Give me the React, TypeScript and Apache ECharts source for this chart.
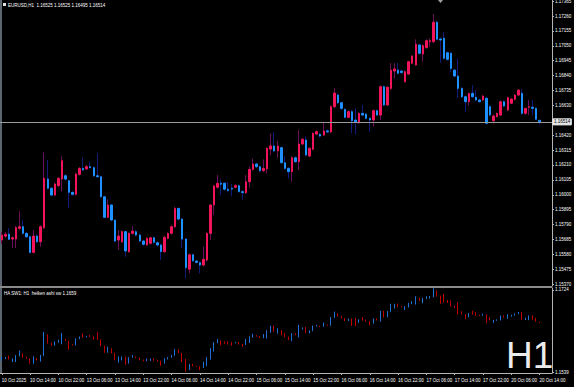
import React, { useEffect, useRef } from "react";
import * as echarts from "echarts";

// Trading days shown (hourly bars): [day, first hour, last hour]
const tradingDays: [string, number, number][] = [
  ["10 Oct", 6, 23],
  ["13 Oct", 0, 23],
  ["14 Oct", 0, 23],
  ["15 Oct", 0, 23],
  ["16 Oct", 0, 23],
  ["17 Oct", 0, 23],
  ["20 Oct", 0, 14],
];

const xTickLabels = [
  "10 Oct 2025", "10 Oct 14:00", "10 Oct 22:00", "13 Oct 06:00", "13 Oct 14:00",
  "13 Oct 22:00", "14 Oct 06:00", "14 Oct 14:00", "14 Oct 22:00", "15 Oct 06:00",
  "15 Oct 14:00", "15 Oct 22:00", "16 Oct 06:00", "16 Oct 14:00", "16 Oct 22:00",
  "17 Oct 06:00", "17 Oct 14:00", "17 Oct 22:00", "20 Oct 06:00", "20 Oct 14:00",
];

const priceTicks = [
  1.17365, 1.1726, 1.17155, 1.1705, 1.16945, 1.1684, 1.16735, 1.1663, 1.1642,
  1.16315, 1.1621, 1.16105, 1.16, 1.15895, 1.1579, 1.15685, 1.1558, 1.15475, 1.1537,
];

const indicatorTicks = [1.1724, 1.1539];

const openP = [
  1.15681, 1.15709, 1.15723, 1.15688, 1.15688, 1.15763, 1.15775, 1.15728, 1.15704, 1.15594,
  1.15709, 1.15669, 1.15768, 1.16111, 1.16046, 1.15998, 1.16064, 1.16111, 1.16134, 1.16099,
  1.16017, 1.16003, 1.16144, 1.16186, 1.16182, 1.16198, 1.16191, 1.16134, 1.16127, 1.15986,
  1.15841, 1.15928, 1.15822, 1.15681, 1.15669, 1.1574, 1.15599, 1.15728, 1.1574, 1.15716,
  1.15674, 1.15646, 1.15658, 1.15697, 1.15662, 1.15646, 1.15599, 1.15693, 1.15728, 1.15775,
  1.15904, 1.15829, 1.15688, 1.15476, 1.15577, 1.15533, 1.15521, 1.15505, 1.1554, 1.15728,
  1.15928, 1.16053, 1.16081, 1.16081, 1.16039, 1.16046, 1.16053, 1.16064, 1.16022, 1.16015,
  1.16092, 1.16179, 1.16217, 1.16198, 1.1617, 1.16182, 1.16322, 1.16344, 1.16309, 1.16332,
  1.16226, 1.16186, 1.16163, 1.16261, 1.16233, 1.16358, 1.16386, 1.16273, 1.16321, 1.16428,
  1.16426, 1.16421, 1.1645, 1.16443, 1.16621, 1.16703, 1.16649, 1.16602, 1.16546, 1.16586,
  1.16527, 1.16508, 1.16574, 1.16569, 1.16539, 1.16527, 1.16593, 1.16562, 1.16762, 1.16633,
  1.1675, 1.16872, 1.16879, 1.16872, 1.16797, 1.16851, 1.16927, 1.16915, 1.17056, 1.16992,
  1.17037, 1.17079, 1.17079, 1.17216, 1.17098, 1.17103, 1.17001, 1.16997, 1.16879, 1.16837,
  1.1675, 1.16691, 1.16656, 1.16715, 1.16687, 1.16668, 1.16668, 1.1668, 1.16621, 1.16522,
  1.1655, 1.16562, 1.16656, 1.16597, 1.16645, 1.16673, 1.16703, 1.16715, 1.16574, 1.16617,
  1.16617, 1.16609, 1.16525,
];

const closeP = [
  1.15716, 1.15721, 1.15686, 1.15697, 1.15768, 1.15775, 1.15728, 1.15704, 1.15594, 1.15709,
  1.15669, 1.15775, 1.16116, 1.16046, 1.15998, 1.16076, 1.16116, 1.1624, 1.16111, 1.16017,
  1.16003, 1.16146, 1.16186, 1.16175, 1.16198, 1.16191, 1.16134, 1.16127, 1.15986, 1.15841,
  1.15928, 1.15822, 1.15674, 1.15709, 1.1574, 1.15604, 1.15728, 1.15744, 1.15716, 1.15674,
  1.15651, 1.15693, 1.15697, 1.15665, 1.15646, 1.15599, 1.157, 1.15728, 1.15775, 1.15904,
  1.15829, 1.15688, 1.15486, 1.15577, 1.15535, 1.15524, 1.15505, 1.15545, 1.15728, 1.15928,
  1.16062, 1.16081, 1.16074, 1.16039, 1.1603, 1.1604, 1.16064, 1.16022, 1.16015, 1.16092,
  1.16179, 1.16217, 1.16198, 1.1617, 1.16186, 1.16328, 1.16344, 1.16309, 1.16344, 1.16226,
  1.16186, 1.16163, 1.16261, 1.16233, 1.16358, 1.16391, 1.1628, 1.16328, 1.16433, 1.16445,
  1.16414, 1.1645, 1.16443, 1.16621, 1.16717, 1.16649, 1.16609, 1.16546, 1.16586, 1.16522,
  1.16515, 1.16574, 1.16562, 1.16539, 1.16527, 1.16593, 1.16562, 1.16762, 1.16633, 1.16758,
  1.16879, 1.16887, 1.16856, 1.16862, 1.16868, 1.16938, 1.16978, 1.17061, 1.16997, 1.17051,
  1.17086, 1.17086, 1.17216, 1.17096, 1.17091, 1.16962, 1.16955, 1.16891, 1.16837, 1.1675,
  1.16691, 1.16656, 1.16715, 1.16691, 1.16668, 1.16656, 1.16696, 1.16504, 1.16562, 1.16555,
  1.16574, 1.16656, 1.16626, 1.16684, 1.16675, 1.16703, 1.16738, 1.16574, 1.16609, 1.16621,
  1.16609, 1.16532, 1.16514,
];

const highP = [
  1.15737, 1.15737, 1.15766, 1.15705, 1.1578, 1.15885, 1.15822, 1.1574, 1.1571, 1.15752,
  1.1572, 1.15785, 1.16299, 1.16245, 1.16055, 1.16085, 1.16125, 1.16273, 1.16145, 1.16105,
  1.16025, 1.16155, 1.16195, 1.16264, 1.1621, 1.16233, 1.162, 1.16292, 1.16135, 1.1599,
  1.15968, 1.15935, 1.1583, 1.15752, 1.1575, 1.15745, 1.15735, 1.1578, 1.1575, 1.15725,
  1.1568, 1.157, 1.15705, 1.15705, 1.1567, 1.15655, 1.1571, 1.15735, 1.15785, 1.15915,
  1.1591, 1.15835, 1.15695, 1.15585, 1.15585, 1.1554, 1.1553, 1.15634, 1.15735, 1.15935,
  1.1607, 1.1614, 1.1611, 1.1609, 1.1609, 1.16075, 1.16075, 1.1607, 1.1603, 1.1614,
  1.162, 1.16255, 1.16225, 1.16205, 1.1625, 1.16335, 1.16433, 1.1644, 1.1638, 1.1634,
  1.16275, 1.16195, 1.1627, 1.1627, 1.16456, 1.164, 1.1641, 1.16335, 1.1644, 1.16455,
  1.16435, 1.16508, 1.1646, 1.1663, 1.16753, 1.16715, 1.16655, 1.1661, 1.16595, 1.16595,
  1.1661, 1.1658, 1.16633, 1.16575, 1.16545, 1.166, 1.166, 1.1677, 1.1677, 1.16765,
  1.16929, 1.16929, 1.16929, 1.1688, 1.16875, 1.16945, 1.16985, 1.17096, 1.17065, 1.1706,
  1.17095, 1.17103, 1.17274, 1.17225, 1.1711, 1.17147, 1.1701, 1.17005, 1.16885, 1.1696,
  1.1676, 1.167, 1.1672, 1.16773, 1.16738, 1.16675, 1.16705, 1.1669, 1.1663, 1.16565,
  1.1658, 1.16665, 1.16665, 1.16692, 1.1668, 1.1671, 1.16745, 1.16745, 1.16615, 1.16668,
  1.16668, 1.16615, 1.16525,
];

const lowP = [
  1.15653, 1.15695, 1.15681, 1.15625, 1.15625, 1.15752, 1.1572, 1.15695, 1.15587, 1.15587,
  1.1566, 1.15634, 1.1576, 1.1604, 1.1599, 1.1599, 1.16055, 1.16022, 1.161, 1.15905,
  1.15995, 1.15995, 1.16135, 1.1617, 1.16175, 1.16185, 1.16125, 1.1612, 1.1598, 1.15835,
  1.15835, 1.15815, 1.15665, 1.15611, 1.1566, 1.15563, 1.1559, 1.1572, 1.1571, 1.15665,
  1.1564, 1.1564, 1.1565, 1.15655, 1.15635, 1.1554, 1.1559, 1.15685, 1.1572, 1.15765,
  1.1582, 1.15623, 1.15411, 1.15446, 1.15525, 1.15515, 1.15446, 1.15495, 1.1553, 1.15681,
  1.15858, 1.16045, 1.16, 1.1603, 1.1602, 1.1599, 1.16045, 1.16015, 1.15965, 1.16005,
  1.1605, 1.1617, 1.1619, 1.1616, 1.1616, 1.1615, 1.1628, 1.163, 1.1626, 1.1622,
  1.1618, 1.16115, 1.16092, 1.16225, 1.16174, 1.1635, 1.16275, 1.16265, 1.16315, 1.1642,
  1.16405, 1.16415, 1.16435, 1.16435, 1.1661, 1.1664, 1.166, 1.1654, 1.1654, 1.16435,
  1.16426, 1.165, 1.16555, 1.1653, 1.16445, 1.1648, 1.16555, 1.16527, 1.16625, 1.16625,
  1.1674, 1.1682, 1.1685, 1.1685, 1.1679, 1.16845, 1.1692, 1.1691, 1.1699, 1.16938,
  1.1703, 1.17044, 1.1707, 1.1709, 1.16929, 1.16955, 1.16945, 1.16866, 1.1683, 1.1668,
  1.16685, 1.16583, 1.16628, 1.16685, 1.16656, 1.1665, 1.1666, 1.16495, 1.16555, 1.16501,
  1.16545, 1.16555, 1.1662, 1.1659, 1.1664, 1.16665, 1.16695, 1.16565, 1.16565, 1.16562,
  1.16562, 1.16525, 1.16495,
];

const FONT = "Liberation Sans";

function buildCategories(): string[] {
  const cats: string[] = [];
  tradingDays.forEach(([d, h0, h1]) => {
    for (let h = h0; h <= h1; h++) cats.push(`${d} ${String(h).padStart(2, "0")}:00`);
  });
  // empty slots for the chart shift on the right
  cats.push(" ", "  ", "   ");
  return cats;
}

export default function App() {
  const ref = useRef<HTMLDivElement>(null);

  useEffect(() => {
    document.body.style.margin = "0";
    document.body.style.background = "#000";
    const chart = echarts.init(ref.current as HTMLDivElement, null, { renderer: "svg" });
    const cats = buildCategories();
    const n = openP.length;
    const wickData = openP.map((o, i) => [o, closeP[i], lowP[i], highP[i]]);
    const bodyData = openP.map((o, i) => [
      o,
      closeP[i],
      Math.min(o, closeP[i]),
      Math.max(o, closeP[i]),
    ]);
    const lastClose = closeP[n - 1];
    const tickShown = (idx: number) => idx % 8 === 0 && idx < n;

    const option: any = {
      animation: false,
      backgroundColor: "#000000",
      textStyle: { fontFamily: FONT },
      grid: [
        { left: 0, right: 22, top: 0, height: 286, containLabel: false, outerBoundsMode: "none" },
        { left: 0, right: 22, top: 288, height: 85, containLabel: false, outerBoundsMode: "none" },
      ],
      xAxis: [
        {
          type: "category",
          gridIndex: 0,
          data: cats,
          boundaryGap: true,
          axisLine: { show: false },
          axisTick: { show: false },
          axisLabel: { show: false },
          splitLine: { show: false },
        },
        {
          type: "category",
          gridIndex: 1,
          data: cats,
          boundaryGap: true,
          axisLine: { show: true, lineStyle: { color: "#b4b4b4", width: 1 } },
          axisTick: {
            show: true,
            alignWithLabel: true,
            interval: (idx: number) => tickShown(idx),
            length: 2,
            lineStyle: { color: "#b4b4b4" },
          },
          axisLabel: {
            show: true,
            interval: (idx: number) => tickShown(idx),
            formatter: (_v: string, idx: number) => xTickLabels[idx / 8] ?? "",
            align: "left",
            color: "#ffffff",
            fontSize: 4.5,
            fontFamily: FONT,
            margin: 5,
          },
          splitLine: { show: false },
        },
      ],
      yAxis: [
        {
          type: "value",
          gridIndex: 0,
          position: "right",
          min: 1.15357,
          max: 1.17373,
          axisLine: { show: true, lineStyle: { color: "#b4b4b4", width: 1 } },
          axisTick: {
            show: true,
            length: 2,
            customValues: priceTicks,
            lineStyle: { color: "#b4b4b4" },
          },
          axisLabel: {
            show: true,
            customValues: priceTicks,
            formatter: (v: number) => v.toFixed(5),
            color: "#ffffff",
            fontSize: 4.5,
            fontFamily: FONT,
            margin: 3,
          },
          splitLine: { show: false },
        },
        {
          type: "value",
          gridIndex: 1,
          position: "right",
          min: 1.1538,
          max: 1.1728,
          axisLine: { show: true, lineStyle: { color: "#b4b4b4", width: 1 } },
          axisTick: {
            show: true,
            length: 2,
            customValues: indicatorTicks,
            lineStyle: { color: "#b4b4b4" },
          },
          axisLabel: {
            show: true,
            customValues: indicatorTicks,
            formatter: (v: number) => v.toFixed(4),
            color: "#ffffff",
            fontSize: 4.5,
            fontFamily: FONT,
            margin: 3,
          },
          splitLine: { show: false },
        },
      ],
      series: [
        {
          name: "wicks",
          type: "candlestick",
          xAxisIndex: 0,
          yAxisIndex: 0,
          data: wickData,
          barWidth: 1,
          silent: true,
          itemStyle: {
            color: "#6a0f58",
            color0: "#101c7c",
            borderColor: "#6a0f58",
            borderColor0: "#101c7c",
            borderColorDoji: "#6a0f58",
            borderWidth: 1,
          },
        },
        {
          name: "EURUSD,H1",
          type: "candlestick",
          xAxisIndex: 0,
          yAxisIndex: 0,
          data: bodyData,
          barWidth: 2,
          silent: true,
          itemStyle: {
            color: "#f2145a",
            color0: "#1e90ff",
            borderColor: "#f2145a",
            borderColor0: "#1e90ff",
            borderColorDoji: "#1e90ff",
            borderWidth: 1,
          },
          markLine: {
            silent: true,
            precision: 5,
            symbol: ["none", "none"],
            data: [{ yAxis: lastClose }],
            lineStyle: { color: "#9a9a9a", width: 1, type: "solid" },
            label: {
              show: true,
              position: "end",
              distance: 1,
              formatter: () => lastClose.toFixed(5),
              color: "#000000",
              backgroundColor: "#e6e6e6",
              borderColor: "#ffffff",
              borderWidth: 0.5,
              padding: [1, 1, 0, 1],
              fontSize: 4.5,
              fontFamily: FONT,
            },
          },
        },
        {
          name: "HA SW1",
          type: "candlestick",
          xAxisIndex: 1,
          yAxisIndex: 1,
          data: wickData,
          barWidth: 1,
          silent: true,
          itemStyle: {
            color: "#1f6fd4",
            color0: "#c00000",
            borderColor: "#1f6fd4",
            borderColor0: "#c00000",
            borderColorDoji: "#c00000",
            borderWidth: 1,
          },
        },
      ],
      graphic: [
        { type: "rect", left: 0, top: 0, shape: { width: 2, height: 373 }, style: { fill: "#5b6670" }, silent: true },
        { type: "rect", left: 0, top: 286, shape: { width: 552, height: 2 }, style: { fill: "#8a8a8a" }, silent: true },
        { type: "rect", left: 3, top: 3, shape: { width: 3, height: 3 }, style: { fill: "#e0e0e0" }, silent: true },
        {
          type: "polygon",
          shape: { points: [[438, 0], [443, 0], [440.5, 3]] },
          style: { fill: "#a0a0a0" },
          silent: true,
        },
        {
          type: "text",
          left: 8,
          top: 2.5,
          style: {
            text: "EURUSD,H1  1.16525 1.16525 1.16495 1.16514",
            fill: "#ffffff",
            fontSize: 4.5,
            fontFamily: FONT,
          },
          silent: true,
        },
        {
          type: "text",
          left: 4,
          top: 290.5,
          style: {
            text: "HA SW1: H1  heiken ashi sw 1.1659",
            fill: "#ffffff",
            fontSize: 4.5,
            fontFamily: FONT,
          },
          silent: true,
        },
        {
          type: "text",
          left: 506,
          top: 337,
          style: {
            text: "H1",
            fill: "#ececec",
            fontSize: 37,
            lineHeight: 28,
            fontFamily: FONT,
          },
          silent: true,
        },
      ],
    };

    chart.setOption(option);
    return () => chart.dispose();
  }, []);

  return <div ref={ref} style={{ width: 574, height: 387, background: "#000" }} />;
}
